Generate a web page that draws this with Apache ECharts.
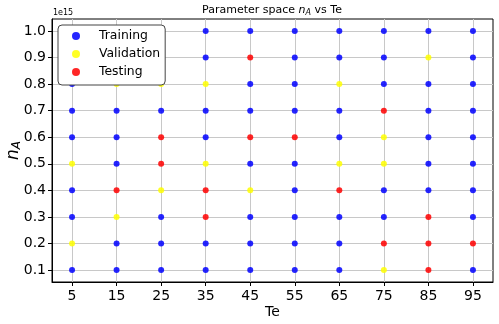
<!DOCTYPE html>
<html>
<head>
<meta charset="utf-8">
<script src="https://cdn.jsdelivr.net/npm/echarts@6/dist/echarts.min.js"></script>
<style>
  html, body { margin: 0; padding: 0; background: #fff; }
  #chart { width: 499px; height: 324px; }
</style>
</head>
<body>
<div id="chart"></div>
<script>
// Te values (x) and n_A values in units of 1e15 (y)
const teValues = [5, 15, 25, 35, 45, 55, 65, 75, 85, 95]
const naValues = [1.0, 0.9, 0.8, 0.7, 0.6, 0.5, 0.4, 0.3, 0.2, 0.1]
const naTicks = [0.1, 0.2, 0.3, 0.4, 0.5, 0.6, 0.7, 0.8, 0.9, 1.0]

// split of each grid point, one string per n_A row (top to bottom)
// T = Training, V = Validation, X = Testing
const splitGrid = [
  'TTTTTTTTTT',
  'TTTTXTTTVT',
  'TVVVTTVTTT',
  'TTTTTTTXTT',
  'TTXTXXTVTT',
  'VTXVTTVVTT',
  'TXVXVTXTTT',
  'TVTXTTTTXT',
  'VTTTTTTXXX',
  'TTTTTTTVXT',
]

const seriesNames = ['Training', 'Validation', 'Testing']
const seriesCodes = ['T', 'V', 'X']
const seriesColors = ['#0000ff', '#ffff00', '#ff0000']

const chart = echarts.init(document.getElementById('chart'))

const pointsFor = (code) => {
  const pts = []
  splitGrid.forEach((row, i) => {
    row.split('').forEach((c, j) => {
      if (c === code) pts.push([teValues[j], naValues[i]])
    })
  })
  return pts
}

const axisText = { color: '#000', fontSize: 14, fontFamily: 'DejaVu Sans' }

const option = {
  animation: false,
  backgroundColor: '#fff',
  grid: {
    left: 52, right: 6, top: 19, bottom: 42,
    containLabel: false,
    outerBoundsMode: 'none',
    show: true, borderColor: '#000', borderWidth: 1,
  },
  legend: {
    orient: 'vertical',
    left: 58, top: 25,
    data: seriesNames,
    icon: 'circle',
    itemWidth: 8, itemHeight: 8,
    itemGap: 4,
    padding: [4, 5, 6, 14],
    backgroundColor: '#fff',
    borderColor: '#444', borderWidth: 1, borderRadius: 4,
    textStyle: {
      color: '#000', fontSize: 12.4, lineHeight: 14,
      fontFamily: 'DejaVu Sans', padding: [0, 0, 0, 14],
    },
  },
  xAxis: {
    type: 'value',
    min: 0.5, max: 99.5,
    name: 'Te',
    nameLocation: 'middle',
    nameGap: 23,
    nameMoveOverlap: false,
    nameTextStyle: axisText,
    axisLine: { show: true, lineStyle: { color: '#000' } },
    axisTick: { show: true, length: 4, customValues: teValues, lineStyle: { color: '#000' } },
    axisLabel: { ...axisText, margin: 7, customValues: teValues },
    splitLine: { show: true, lineStyle: { color: '#c8c8c8', width: 1 } },
  },
  yAxis: {
    type: 'value',
    min: 0.055, max: 1.045,
    name: '{n|n}{s|A}',
    nameLocation: 'middle',
    nameRotate: 90,
    nameGap: 29,
    nameMoveOverlap: false,
    nameTextStyle: {
      rich: {
        n: { fontSize: 17, fontStyle: 'italic', fontFamily: 'DejaVu Sans', color: '#000', lineHeight: 18 },
        s: { fontSize: 12, fontStyle: 'italic', fontFamily: 'DejaVu Sans', color: '#000', lineHeight: 18, verticalAlign: 'bottom', padding: [6, 0, 0, 0] },
      },
    },
    axisLine: { show: true, lineStyle: { color: '#000' } },
    axisTick: { show: true, length: 4, customValues: naTicks, lineStyle: { color: '#000' } },
    axisLabel: { ...axisText, margin: 6, customValues: naTicks, formatter: (v) => v.toFixed(1) },
    splitLine: { show: true, lineStyle: { color: '#c8c8c8', width: 1 } },
  },
  graphic: [
    {
      type: 'text', left: 53, top: 9,
      style: { text: '1e15', fontSize: 8, fontFamily: 'DejaVu Sans', fill: '#000' },
    },
    {
      type: 'text', x: 272, y: 4,
      style: {
        text: '{r|Parameter space }{i|n}{s|A}{r| vs Te}',
        align: 'center',
        rich: {
          r: { fontSize: 11, fontFamily: 'DejaVu Sans', fill: '#000' },
          i: { fontSize: 11, fontStyle: 'italic', fontFamily: 'DejaVu Sans', fill: '#000' },
          s: { fontSize: 8, fontStyle: 'italic', fontFamily: 'DejaVu Sans', fill: '#000', padding: [5, 0, 0, 0] },
        },
      },
    },
  ],
  series: seriesNames.map((name, k) => ({
    name,
    type: 'scatter',
    symbolSize: 6,
    data: pointsFor(seriesCodes[k]),
    itemStyle: { color: seriesColors[k], opacity: 0.85 },
  })),
}

chart.setOption(option)
</script>
</body>
</html>
